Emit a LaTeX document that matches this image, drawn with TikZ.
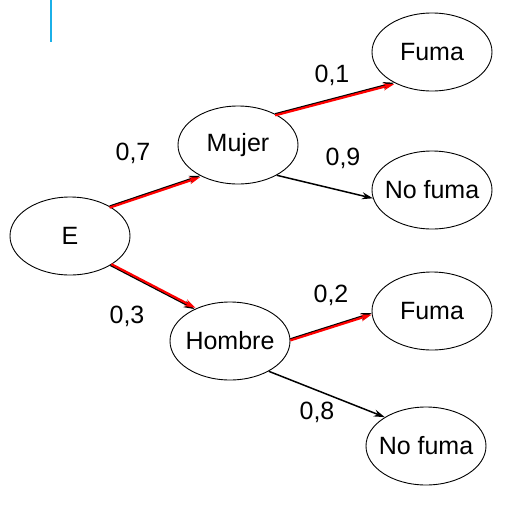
\documentclass[tikz,border=0pt]{standalone}
\usepackage{fontspec}
\setmainfont{Liberation Sans}
\usetikzlibrary{arrows.meta,shapes.geometric}
\definecolor{barblue}{RGB}{27,176,232}
\tikzset{
    suceso/.style={draw, ellipse, line width=0.9pt, minimum width=120pt, minimum height=78pt, inner xsep=-7pt, inner ysep=0pt, font=\fontsize{25}{28}\selectfont},
    prob/.style={font=\fontsize{25}{28}\selectfont},
    rama/.style={-{Stealth[length=11pt,width=7pt]}, line width=1.5pt},
    roja/.style={-{Stealth[length=11pt,width=7pt]}, line width=2.2pt, red}
}

\begin{document}
\begin{tikzpicture}[x=1pt,y=-1pt]
                        \useasboundingbox (0,0) rectangle (517,507);
                        \draw[barblue, line width=2.5pt] (51,0) -- (51,42);
                        \node[suceso] (E) at (70,236) {E};
                        \node[suceso] (mujer) at (238,145) {Mujer};
                        \node[suceso] (hombre) at (230,341) {Hombre};
                        \node[suceso] (fumaM) at (432,52) {Fuma};
                        \node[suceso] (nofumaM) at (432,190) {No fuma};
                        \node[suceso] (fumaH) at (432,311) {Fuma};
                        \node[suceso] (nofumaH) at (426,446) {No fuma};
                        % ramas
                        \draw[rama] (E.37) -- (mujer.219);
                        \draw[roja,transform canvas={yshift=-1.5pt}] (E.37) -- (mujer.219);
                        \draw[rama] (E.-36) -- (hombre.138);
                        \draw[roja,transform canvas={xshift=1pt,yshift=1.2pt}] (E.-36) -- (hombre.138);
                        \draw[rama] (mujer.40) -- (fumaM.219);
                        \draw[roja,transform canvas={yshift=-1.5pt}] (mujer.40) -- (fumaM.219);
                        \draw[rama] (mujer.-38) -- (nofumaM.188);
                        \draw[rama] (hombre.2) -- (fumaH.182);
                        \draw[roja,transform canvas={yshift=-1.5pt}] (hombre.2) -- (fumaH.182);
                        \draw[rama] (hombre.-38) -- (nofumaH.145);
                        % probabilidades
                        \node[prob] (p07) at (133,153) {0,7};
                        \node[prob] (p03) at (127,316) {0,3};
                        \node[prob] (p01) at (332,75) {0,1};
                        \node[prob] (p09) at (343,158) {0,9};
                        \node[prob] (p02) at (331,295) {0,2};
                        \node[prob] (p08) at (317,412) {0,8};
                    \end{tikzpicture}
\end{document}
